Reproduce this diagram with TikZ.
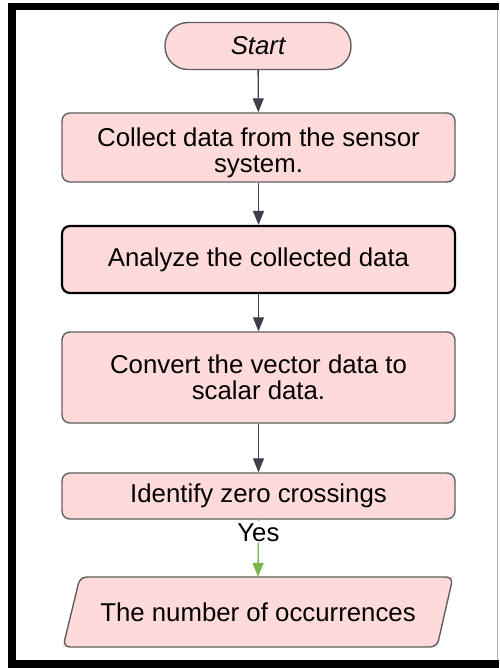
\documentclass[tikz,border=0pt]{standalone}
\usepackage{fontspec}
\setmainfont{Liberation Sans}
\usetikzlibrary{arrows.meta}
\definecolor{pinkfill}{HTML}{FFDADA}
\definecolor{edgegray}{HTML}{5F5F5F}
\definecolor{arrowgray}{HTML}{3A414A}
\definecolor{yesgreen}{HTML}{7AB648}
\tikzset{
  boxfont/.style={font=\fontsize{25.8}{26.5}\selectfont},
  procbox/.style={draw=edgegray, line width=1.4pt, fill=pinkfill, rounded corners=8pt,
    minimum width=393pt, align=center, boxfont, inner sep=0pt},
  flowarrow/.style={draw=arrowgray, line width=1.3pt, -{Triangle[width=11pt,length=14pt]}},
  greenarrow/.style={draw=yesgreen, line width=1.3pt, -{Triangle[width=11pt,length=14pt]}},
}
\begin{document}
\begin{tikzpicture}[x=1pt,y=-1pt]
\useasboundingbox (0,0) rectangle (499,668);
% frame
\fill[black] (8,3) rectangle (16,668);
\fill[black] (8,3) rectangle (499,10);
\fill[black] (8,660) rectangle (499,668);
\draw[gray!60, line width=1pt] (497.5,10) -- (497.5,660);
% nodes
\node[procbox, minimum width=186pt, minimum height=47pt, rounded corners=23pt,
  font=\fontsize{25.8}{26.5}\selectfont\itshape] (start) at (258,46) {Start};
\node[procbox, minimum height=69pt] (collect) at (258.5,147.5) {};
\node[boxfont, align=center, inner sep=0pt] (collecttext) at (258.5,153) {Collect data from the sensor\\system.};
\node[procbox, draw=black, line width=2.2pt, minimum height=67pt] (analyze) at (258.5,259.5) {Analyze the collected data};
\node[procbox, minimum height=91pt] (convert) at (258.5,377.5) {Convert the vector data to\\scalar data.};
\node[procbox, minimum height=46pt] (identify) at (258.5,496) {Identify zero crossings};
\fill[pinkfill] (80,577) -- (453,577) -- (437,647) -- (63,647) -- cycle;
\draw[edgegray, line width=1.4pt, rounded corners=7pt] (80,577) -- (453,577) -- (437,647) -- (63,647) -- cycle;
\node[minimum height=70pt, boxfont, inner sep=0pt] (output) at (258,612) {The number of occurrences};
% connectors
\draw[flowarrow] (start) -- (collect);
\draw[flowarrow] (collect) -- (analyze);
\draw[flowarrow] (analyze) -- (convert);
\draw[flowarrow] (convert) -- (identify);
\draw[greenarrow] (identify.south) -- node[pos=0.22, fill=white, inner sep=2pt, boxfont, text=black] (yes) {Yes} (output.north);
\end{tikzpicture}
\end{document}
